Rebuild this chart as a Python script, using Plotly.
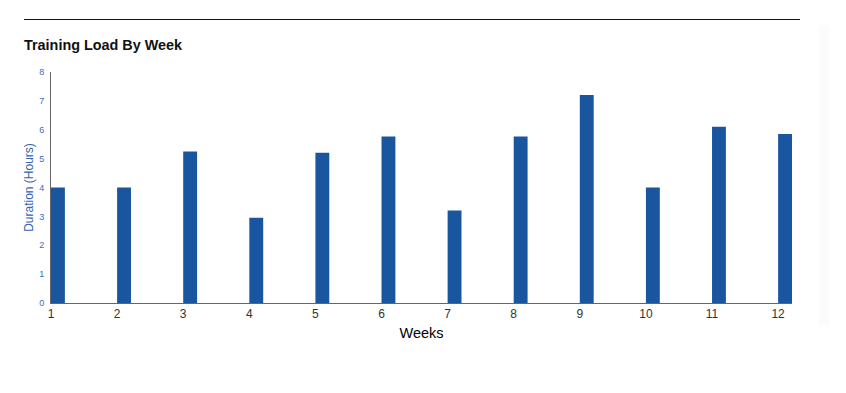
import plotly.graph_objects as go

weeks = [1, 2, 3, 4, 5, 6, 7, 8, 9, 10, 11, 12]
hours = [4.0, 4.0, 5.25, 2.95, 5.2, 5.77, 3.2, 5.77, 7.2, 4.0, 6.1, 5.85]
y_ticks = [0, 1, 2, 3, 4, 5, 6, 7, 8]

# page body has an 8px margin; positions below are window pixels
OFF = 8
W, H = 846 - 2 * OFF, 393 - 2 * OFF
L, R, T, B = 51 - OFF, 792 - OFF, 72 - OFF, 303 - OFF

def px_x(p):
    return (p - OFF - L) / (R - L)

def px_y(p):
    return (B - (p - OFF)) / (B - T)

fig = go.Figure()
fig.add_trace(go.Bar(
    x=weeks, y=hours, width=0.21, offset=0,
    marker=dict(color="#1a56a0", line=dict(width=0)),
    hoverinfo="x+y",
))

fig.update_layout(
    width=W, height=H,
    margin=dict(l=L, r=W - R, t=T, b=H - B, pad=0),
    paper_bgcolor="white", plot_bgcolor="white",
    showlegend=False,
    font=dict(family="Liberation Sans, Arial, sans-serif"),
    title=dict(
        text="<b>Training Load By Week</b>",
        x=(24 - OFF) / W, xanchor="left", xref="container",
        y=1 - (45 - OFF) / H, yanchor="middle", yref="container",
        font=dict(size=14.4, color="#111111"),
    ),
    xaxis=dict(
        range=[1, 12.21], tickvals=weeks, ticktext=[str(w) for w in weeks],
        showgrid=False, zeroline=False,
        showline=True, linecolor="#666666", linewidth=1,
        ticks="", tickfont=dict(size=12, color="#333333"),
        title=dict(text="Weeks", font=dict(size=14.5, color="#000000", weight=500), standoff=7),
    ),
    yaxis=dict(
        range=[0, 8], tickvals=y_ticks,
        showgrid=False, zeroline=False,
        showline=True, linecolor="#666666", linewidth=1,
        ticks="", tickfont=dict(size=9, color="#3a6db5"),
        ticklabelstandoff=4,
        title=dict(text="Duration (Hours)", font=dict(size=12, color="#2e64b0"), standoff=2),
    ),
    shapes=[
        dict(type="line", xref="paper", yref="paper",
             x0=px_x(24), x1=px_x(800), y0=px_y(19.5), y1=px_y(19.5),
             line=dict(color="#111111", width=1)),
        dict(type="rect", xref="paper", yref="paper",
             x0=px_x(819), x1=px_x(829), y0=px_y(325), y1=px_y(25),
             fillcolor="#fbfbfb", line=dict(width=0), layer="below"),
    ],
)

fig.write_html("out.html")
